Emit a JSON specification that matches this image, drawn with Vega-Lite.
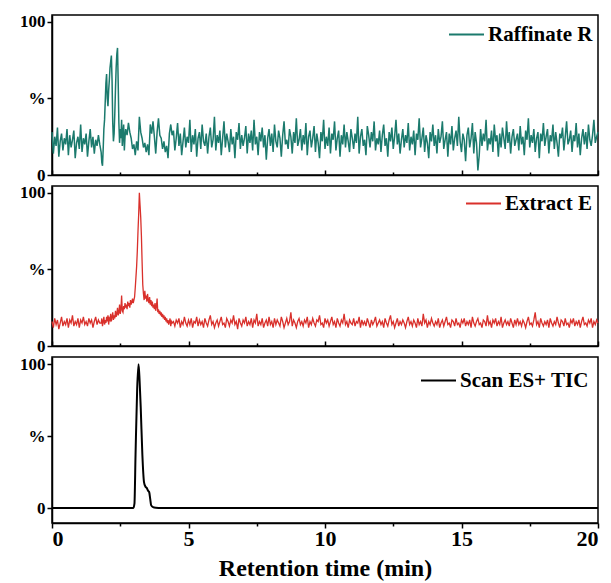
{
"$schema": "https://vega.github.io/schema/vega-lite/v6.json",
"padding": {"left": 4, "top": 12, "right": 5, "bottom": 0},
"background": "white",
"config": {
 "font": "Liberation Serif",
 "view": {"stroke": "#000", "strokeWidth": 1.5},
 "axis": {"labelFont": "Liberation Serif", "labelFontWeight": "bold", "labelFontSize": 17, "labelColor": "#000", "titleFont": "Liberation Serif", "titleFontWeight": "bold", "titleFontSize": 24, "titleColor": "#000", "domainColor": "#000", "domainWidth": 1.5, "tickColor": "#000", "tickWidth": 1.5, "grid": false, "labelPadding": 2},
 "legend": {"padding": 0, "labelFont": "Liberation Serif", "labelFontWeight": "bold", "labelFontSize": 21, "labelColor": "#000", "symbolType": "stroke", "symbolSize": 1225, "symbolStrokeWidth": 2, "labelLimit": 300, "labelOffset": 3}
},
"datasets": {
 "chrom": [
{"t":0,"r":28,"e":16},{"t":0.05,"r":14,"e":12},{"t":0.1,"r":25,"e":18},{"t":0.15,"r":19,"e":14},{"t":0.2,"r":31,"e":17},{"t":0.25,"r":12,"e":11},{"t":0.3,"r":22,"e":15},{"t":0.35,"r":27,"e":19},{"t":0.4,"r":16,"e":13},{"t":0.45,"r":24,"e":16},{"t":0.5,"r":20,"e":14},{"t":0.55,"r":30,"e":18},{"t":0.6,"r":13,"e":12},{"t":0.65,"r":26,"e":17},{"t":0.7,"r":18,"e":15},{"t":0.75,"r":23,"e":20},{"t":0.8,"r":29,"e":13},{"t":0.85,"r":11,"e":16},{"t":0.9,"r":21,"e":14},{"t":0.95,"r":25,"e":18},{"t":1,"r":17,"e":12},{"t":1.05,"r":33,"e":17},{"t":1.1,"r":15,"e":15},{"t":1.15,"r":24,"e":19},{"t":1.2,"r":20,"e":14},{"t":1.25,"r":27,"e":16},{"t":1.3,"r":12,"e":13},{"t":1.35,"r":22,"e":18},{"t":1.4,"r":30,"e":15},{"t":1.45,"r":18,"e":17},{"t":1.5,"r":25,"e":12},{"t":1.55,"r":14,"e":16},{"t":1.6,"r":23,"e":19},{"t":1.65,"r":19,"e":14},{"t":1.7,"r":26,"e":17},{"t":1.75,"r":20,"e":15},
{"t":1.8,"r":15,"e":15},{"t":1.825,"r":8,"e":18},{"t":1.85,"r":6,"e":13},{"t":1.875,"r":17,"e":16},{"t":1.9,"r":30,"e":19},{"t":1.925,"r":36,"e":14},{"t":1.95,"r":48,"e":17},{"t":1.975,"r":60,"e":15},{"t":2,"r":66,"e":19},{"t":2.025,"r":50,"e":16},{"t":2.05,"r":45,"e":20},{"t":2.075,"r":55,"e":14},{"t":2.1,"r":62,"e":18},{"t":2.125,"r":70,"e":17},{"t":2.15,"r":74,"e":21},{"t":2.175,"r":78,"e":16},{"t":2.2,"r":62,"e":19},{"t":2.225,"r":34,"e":22},{"t":2.25,"r":22,"e":17},{"t":2.275,"r":27,"e":20},{"t":2.3,"r":40,"e":18},{"t":2.325,"r":56,"e":23},{"t":2.35,"r":70,"e":19},{"t":2.375,"r":79,"e":21},{"t":2.4,"r":83,"e":25},{"t":2.425,"r":60,"e":20},{"t":2.45,"r":34,"e":22},{"t":2.475,"r":21,"e":27},{"t":2.5,"r":30,"e":21},{"t":2.525,"r":24,"e":24},{"t":2.55,"r":36,"e":33},{"t":2.575,"r":19,"e":23},{"t":2.6,"r":27,"e":22},{"t":2.625,"r":33,"e":26},{"t":2.65,"r":16,"e":24},{"t":2.675,"r":25,"e":28},{"t":2.7,"r":30,"e":25},
{"t":2.725,"e":27},{"t":2.75,"r":26,"e":24},{"t":2.775,"e":29},{"t":2.8,"r":34,"e":26},{"t":2.825,"e":28},{"t":2.85,"r":28,"e":25},{"t":2.875,"e":30},{"t":2.9,"r":24,"e":27},{"t":2.925,"e":29},{"t":2.95,"r":17,"e":31},{"t":2.975,"e":28},{"t":3,"r":20,"e":30},{"t":3.025,"e":32},{"t":3.05,"r":13,"e":38},{"t":3.075,"e":45},{"t":3.1,"r":22,"e":52},{"t":3.125,"e":62},{"t":3.15,"r":16,"e":75},{"t":3.175,"e":86},{"t":3.2,"r":38,"e":100},{"t":3.225,"e":92},{"t":3.25,"r":28,"e":84},{"t":3.275,"e":72},{"t":3.3,"r":24,"e":55},{"t":3.325,"e":40},{"t":3.35,"r":18,"e":34},{"t":3.375,"e":30},{"t":3.4,"r":21,"e":36},{"t":3.425,"e":31},{"t":3.45,"r":15,"e":33},{"t":3.475,"e":29},{"t":3.5,"r":20,"e":34},{"t":3.525,"e":30},{"t":3.55,"r":13,"e":28},{"t":3.575,"e":32},{"t":3.6,"r":33,"e":27},{"t":3.625,"e":30},{"t":3.65,"r":27,"e":26},{"t":3.675,"e":29},{"t":3.7,"r":35,"e":25},{"t":3.725,"e":27},{"t":3.75,"r":25,"e":24},{"t":3.775,"e":28},{"t":3.8,"r":14,"e":23},{"t":3.825,"e":26},{"t":3.85,"r":28,"e":31},{"t":3.875,"e":22},{"t":3.9,"r":37,"e":24},{"t":3.925,"e":21},{"t":3.95,"r":26,"e":23},{"t":3.975,"e":20},{"t":4,"r":24,"e":22},{"t":4.025,"e":19},{"t":4.05,"r":17,"e":21},{"t":4.075,"e":18},{"t":4.1,"r":22,"e":20},{"t":4.125,"e":17},{"t":4.15,"r":15,"e":19},{"t":4.175,"e":16},{"t":4.2,"r":19,"e":18},{"t":4.225,"e":15},{"t":4.25,"r":11,"e":17},{"t":4.275,"e":14},{"t":4.3,"r":27,"e":16},{"t":4.325,"e":18},{"t":4.35,"r":33,"e":13},{"t":4.375,"e":16},{"t":4.4,"r":26,"e":15},
{"t":4.45,"r":29,"e":16},{"t":4.5,"r":16,"e":13},{"t":4.55,"r":24,"e":17},{"t":4.6,"r":34,"e":15},{"t":4.65,"r":19,"e":18},{"t":4.7,"r":27,"e":12},{"t":4.75,"r":13,"e":16},{"t":4.8,"r":22,"e":14},{"t":4.85,"r":31,"e":19},{"t":4.9,"r":18,"e":15},{"t":4.95,"r":25,"e":13},{"t":5,"r":21,"e":17},
{"t":5.05,"r":36,"e":14},{"t":5.1,"r":15,"e":18},{"t":5.15,"r":26,"e":12},{"t":5.2,"r":20,"e":16},{"t":5.25,"r":30,"e":15},{"t":5.3,"r":12,"e":19},{"t":5.35,"r":24,"e":13},{"t":5.4,"r":28,"e":17},{"t":5.45,"r":17,"e":14},{"t":5.5,"r":33,"e":16},{"t":5.55,"r":22,"e":12},{"t":5.6,"r":19,"e":18},{"t":5.65,"r":27,"e":15},{"t":5.7,"r":14,"e":13},{"t":5.75,"r":25,"e":17},{"t":5.8,"r":31,"e":20},{"t":5.85,"r":18,"e":14},{"t":5.9,"r":23,"e":16},{"t":5.95,"r":38,"e":12},{"t":6,"r":16,"e":15},
{"t":6.05,"r":26,"e":17},{"t":6.1,"r":21,"e":13},{"t":6.15,"r":29,"e":16},{"t":6.2,"r":13,"e":19},{"t":6.25,"r":24,"e":14},{"t":6.3,"r":35,"e":15},{"t":6.35,"r":18,"e":12},{"t":6.4,"r":27,"e":18},{"t":6.45,"r":22,"e":16},{"t":6.5,"r":15,"e":13},{"t":6.55,"r":30,"e":17},{"t":6.6,"r":20,"e":15},{"t":6.65,"r":25,"e":20},{"t":6.7,"r":11,"e":14},{"t":6.75,"r":28,"e":16},{"t":6.8,"r":23,"e":11},{"t":6.85,"r":34,"e":18},{"t":6.9,"r":17,"e":15},{"t":6.95,"r":26,"e":13},{"t":7,"r":19,"e":17},
{"t":7.05,"r":24,"e":15},{"t":7.1,"r":32,"e":19},{"t":7.15,"r":14,"e":13},{"t":7.2,"r":27,"e":16},{"t":7.25,"r":21,"e":14},{"t":7.3,"r":29,"e":18},{"t":7.35,"r":16,"e":12},{"t":7.4,"r":36,"e":17},{"t":7.45,"r":20,"e":15},{"t":7.5,"r":25,"e":21},{"t":7.55,"r":13,"e":13},{"t":7.6,"r":28,"e":16},{"t":7.65,"r":22,"e":14},{"t":7.7,"r":31,"e":18},{"t":7.75,"r":18,"e":12},{"t":7.8,"r":26,"e":15},{"t":7.85,"r":10,"e":17},{"t":7.9,"r":24,"e":13},{"t":7.95,"r":30,"e":19},{"t":8,"r":19,"e":14},
{"t":8.05,"r":27,"e":16},{"t":8.1,"r":15,"e":12},{"t":8.15,"r":33,"e":18},{"t":8.2,"r":22,"e":14},{"t":8.25,"r":18,"e":17},{"t":8.3,"r":29,"e":15},{"t":8.35,"r":24,"e":13},{"t":8.4,"r":12,"e":19},{"t":8.45,"r":26,"e":16},{"t":8.5,"r":35,"e":12},{"t":8.55,"r":20,"e":15},{"t":8.6,"r":23,"e":18},{"t":8.65,"r":17,"e":14},{"t":8.7,"r":30,"e":16},{"t":8.75,"r":25,"e":22},{"t":8.8,"r":14,"e":13},{"t":8.85,"r":28,"e":17},{"t":8.9,"r":21,"e":15},{"t":8.95,"r":37,"e":12},{"t":9,"r":19,"e":16},
{"t":9.05,"r":23,"e":18},{"t":9.1,"r":30,"e":14},{"t":9.15,"r":16,"e":16},{"t":9.2,"r":26,"e":13},{"t":9.25,"r":20,"e":17},{"t":9.3,"r":34,"e":15},{"t":9.35,"r":13,"e":19},{"t":9.4,"r":25,"e":12},{"t":9.45,"r":29,"e":16},{"t":9.5,"r":18,"e":14},{"t":9.55,"r":24,"e":18},{"t":9.6,"r":32,"e":15},{"t":9.65,"r":15,"e":13},{"t":9.7,"r":27,"e":17},{"t":9.75,"r":21,"e":16},{"t":9.8,"r":11,"e":20},{"t":9.85,"r":28,"e":14},{"t":9.9,"r":22,"e":15},{"t":9.95,"r":36,"e":12},{"t":10,"r":17,"e":18},
{"t":10.05,"r":25,"e":15},{"t":10.1,"r":19,"e":17},{"t":10.15,"r":31,"e":13},{"t":10.2,"r":14,"e":16},{"t":10.25,"r":27,"e":19},{"t":10.3,"r":23,"e":14},{"t":10.35,"r":35,"e":16},{"t":10.4,"r":16,"e":12},{"t":10.45,"r":24,"e":18},{"t":10.5,"r":29,"e":15},{"t":10.55,"r":12,"e":13},{"t":10.6,"r":26,"e":17},{"t":10.65,"r":20,"e":15},{"t":10.7,"r":33,"e":21},{"t":10.75,"r":18,"e":14},{"t":10.8,"r":28,"e":16},{"t":10.85,"r":22,"e":12},{"t":10.9,"r":15,"e":17},{"t":10.95,"r":30,"e":15},{"t":11,"r":24,"e":14},
{"t":11.05,"r":17,"e":18},{"t":11.1,"r":27,"e":13},{"t":11.15,"r":21,"e":16},{"t":11.2,"r":38,"e":15},{"t":11.25,"r":14,"e":19},{"t":11.3,"r":25,"e":12},{"t":11.35,"r":30,"e":17},{"t":11.4,"r":19,"e":14},{"t":11.45,"r":23,"e":16},{"t":11.5,"r":13,"e":13},{"t":11.55,"r":32,"e":18},{"t":11.6,"r":26,"e":15},{"t":11.65,"r":18,"e":12},{"t":11.7,"r":28,"e":17},{"t":11.75,"r":22,"e":14},{"t":11.8,"r":35,"e":16},{"t":11.85,"r":16,"e":19},{"t":11.9,"r":24,"e":13},{"t":11.95,"r":20,"e":15},{"t":12,"r":29,"e":17},
{"t":12.05,"r":15,"e":14},{"t":12.1,"r":26,"e":16},{"t":12.15,"r":33,"e":12},{"t":12.2,"r":19,"e":18},{"t":12.25,"r":24,"e":15},{"t":12.3,"r":12,"e":13},{"t":12.35,"r":28,"e":17},{"t":12.4,"r":22,"e":20},{"t":12.45,"r":31,"e":14},{"t":12.5,"r":17,"e":16},{"t":12.55,"r":25,"e":12},{"t":12.6,"r":36,"e":15},{"t":12.65,"r":20,"e":18},{"t":12.7,"r":27,"e":13},{"t":12.75,"r":14,"e":16},{"t":12.8,"r":23,"e":14},{"t":12.85,"r":30,"e":17},{"t":12.9,"r":18,"e":15},{"t":12.95,"r":26,"e":12},{"t":13,"r":21,"e":16},
{"t":13.05,"r":34,"e":19},{"t":13.1,"r":16,"e":14},{"t":13.15,"r":25,"e":16},{"t":13.2,"r":20,"e":13},{"t":13.25,"r":29,"e":17},{"t":13.3,"r":13,"e":15},{"t":13.35,"r":27,"e":12},{"t":13.4,"r":23,"e":18},{"t":13.45,"r":37,"e":14},{"t":13.5,"r":18,"e":16},{"t":13.55,"r":24,"e":13},{"t":13.6,"r":31,"e":21},{"t":13.65,"r":15,"e":15},{"t":13.7,"r":26,"e":17},{"t":13.75,"r":21,"e":12},{"t":13.8,"r":11,"e":16},{"t":13.85,"r":28,"e":14},{"t":13.9,"r":22,"e":18},{"t":13.95,"r":33,"e":15},{"t":14,"r":19,"e":13},
{"t":14.05,"r":26,"e":16},{"t":14.1,"r":14,"e":14},{"t":14.15,"r":30,"e":18},{"t":14.2,"r":21,"e":12},{"t":14.25,"r":25,"e":15},{"t":14.3,"r":35,"e":17},{"t":14.35,"r":17,"e":13},{"t":14.4,"r":23,"e":16},{"t":14.45,"r":28,"e":19},{"t":14.5,"r":12,"e":14},{"t":14.55,"r":27,"e":15},{"t":14.6,"r":20,"e":12},{"t":14.65,"r":32,"e":17},{"t":14.7,"r":16,"e":16},{"t":14.75,"r":24,"e":13},{"t":14.8,"r":29,"e":18},{"t":14.85,"r":19,"e":14},{"t":14.9,"r":38,"e":15},{"t":14.95,"r":22,"e":12},{"t":15,"r":15,"e":17},
{"t":15.05,"r":27,"e":15},{"t":15.1,"r":23,"e":18},{"t":15.15,"r":9,"e":13},{"t":15.2,"r":26,"e":16},{"t":15.25,"r":31,"e":14},{"t":15.3,"r":18,"e":17},{"t":15.35,"r":24,"e":12},{"t":15.4,"r":34,"e":19},{"t":15.45,"r":14,"e":15},{"t":15.5,"r":28,"e":13},{"t":15.55,"r":21,"e":16},{"t":15.6,"r":3,"e":18},{"t":15.65,"r":13,"e":14},{"t":15.7,"r":30,"e":15},{"t":15.75,"r":19,"e":12},{"t":15.8,"r":27,"e":17},{"t":15.85,"r":22,"e":16},{"t":15.9,"r":36,"e":13},{"t":15.95,"r":16,"e":20},{"t":16,"r":24,"e":14},
{"t":16.05,"r":20,"e":16},{"t":16.1,"r":29,"e":12},{"t":16.15,"r":15,"e":17},{"t":16.2,"r":33,"e":15},{"t":16.25,"r":22,"e":18},{"t":16.3,"r":26,"e":13},{"t":16.35,"r":12,"e":16},{"t":16.4,"r":27,"e":14},{"t":16.45,"r":18,"e":19},{"t":16.5,"r":31,"e":12},{"t":16.55,"r":24,"e":15},{"t":16.6,"r":17,"e":17},{"t":16.65,"r":35,"e":14},{"t":16.7,"r":21,"e":16},{"t":16.75,"r":28,"e":13},{"t":16.8,"r":14,"e":18},{"t":16.85,"r":25,"e":15},{"t":16.9,"r":30,"e":12},{"t":16.95,"r":19,"e":17},{"t":17,"r":23,"e":14},
{"t":17.05,"r":27,"e":18},{"t":17.1,"r":16,"e":14},{"t":17.15,"r":32,"e":16},{"t":17.2,"r":20,"e":13},{"t":17.25,"r":25,"e":17},{"t":17.3,"r":13,"e":15},{"t":17.35,"r":29,"e":12},{"t":17.4,"r":23,"e":16},{"t":17.45,"r":37,"e":19},{"t":17.5,"r":18,"e":14},{"t":17.55,"r":26,"e":15},{"t":17.6,"r":21,"e":13},{"t":17.65,"r":30,"e":17},{"t":17.7,"r":15,"e":22},{"t":17.75,"r":24,"e":14},{"t":17.8,"r":28,"e":16},{"t":17.85,"r":11,"e":12},{"t":17.9,"r":27,"e":18},{"t":17.95,"r":22,"e":15},{"t":18,"r":34,"e":13},
{"t":18.05,"r":19,"e":16},{"t":18.1,"r":25,"e":14},{"t":18.15,"r":30,"e":17},{"t":18.2,"r":14,"e":12},{"t":18.25,"r":26,"e":18},{"t":18.3,"r":22,"e":15},{"t":18.35,"r":33,"e":13},{"t":18.4,"r":17,"e":16},{"t":18.45,"r":28,"e":14},{"t":18.5,"r":21,"e":19},{"t":18.55,"r":12,"e":15},{"t":18.6,"r":27,"e":12},{"t":18.65,"r":24,"e":17},{"t":18.7,"r":31,"e":16},{"t":18.75,"r":16,"e":13},{"t":18.8,"r":25,"e":18},{"t":18.85,"r":35,"e":14},{"t":18.9,"r":20,"e":15},{"t":18.95,"r":23,"e":12},{"t":19,"r":29,"e":17},
{"t":19.05,"r":15,"e":15},{"t":19.1,"r":26,"e":18},{"t":19.15,"r":22,"e":13},{"t":19.2,"r":34,"e":16},{"t":19.25,"r":18,"e":14},{"t":19.3,"r":27,"e":17},{"t":19.35,"r":13,"e":12},{"t":19.4,"r":24,"e":16},{"t":19.45,"r":30,"e":19},{"t":19.5,"r":20,"e":14},{"t":19.55,"r":28,"e":15},{"t":19.6,"r":17,"e":13},{"t":19.65,"r":33,"e":17},{"t":19.7,"r":23,"e":15},{"t":19.75,"r":19,"e":18},{"t":19.8,"r":26,"e":12},{"t":19.85,"r":36,"e":16},{"t":19.9,"r":21,"e":14},{"t":19.95,"r":25,"e":17},{"t":20,"r":28,"e":15}
 ],
 "tic": [
{"t":0,"s":0},{"t":2.98,"s":0},{"t":3.02,"s":3},{"t":3.06,"s":37},{"t":3.12,"s":83},{"t":3.17,"s":100},{"t":3.21,"s":88},{"t":3.25,"s":70},{"t":3.31,"s":37},{"t":3.37,"s":18},{"t":3.42,"s":15},{"t":3.47,"s":14},{"t":3.52,"s":12},{"t":3.56,"s":11},{"t":3.6,"s":6},{"t":3.63,"s":2},{"t":3.7,"s":0.6},{"t":3.8,"s":0.2},{"t":4,"s":0},{"t":20,"s":0}
 ]
},
"spacing": 11,
"bounds": "flush",
"resolve": {"scale": {"color": "independent", "y": "independent", "x": "independent"}, "legend": {"color": "independent"}, "axis": {"x": "independent", "y": "independent"}},
"vconcat": [
 {
  "width": 546, "height": 160,
  "data": {"name": "chrom"},
  "mark": {"type": "line", "strokeWidth": 1.5, "interpolate": "linear", "invalid": "filter"},
  "encoding": {
   "x": {"field": "t", "type": "quantitative", "scale": {"domain": [0, 20], "nice": false}, "axis": {"title": null, "labels": false, "minExtent": 0, "maxExtent": 0, "values": [0, 2.5, 5, 7.5, 10, 12.5, 15, 17.5, 20], "tickSize": {"condition": {"test": "datum.value % 5 === 0", "value": -5}, "value": -3}}},
   "y": {"field": "r", "type": "quantitative", "scale": {"domain": [0, 104.5], "nice": false}, "axis": {"title": null, "values": [0, 50, 100], "labelExpr": "datum.value == 50 ? '%' : datum.label", "tickSize": 5, "minExtent": 47, "maxExtent": 47}},
   "color": {"datum": "Raffinate R", "type": "nominal", "scale": {"range": ["#1b7a6d"]}, "legend": {"title": null, "orient": "none", "legendX": 396, "legendY": 1}}
  }
 },
 {
  "width": 546, "height": 160,
  "data": {"name": "chrom"},
  "mark": {"type": "line", "strokeWidth": 1.3, "interpolate": "linear", "invalid": "filter"},
  "encoding": {
   "x": {"field": "t", "type": "quantitative", "scale": {"domain": [0, 20], "nice": false}, "axis": {"title": null, "labels": false, "minExtent": 0, "maxExtent": 0, "values": [0, 2.5, 5, 7.5, 10, 12.5, 15, 17.5, 20], "tickSize": {"condition": {"test": "datum.value % 5 === 0", "value": -5}, "value": -3}}},
   "y": {"field": "e", "type": "quantitative", "scale": {"domain": [0, 104.5], "nice": false}, "axis": {"title": null, "values": [0, 50, 100], "labelExpr": "datum.value == 50 ? '%' : datum.label", "tickSize": 5, "minExtent": 47, "maxExtent": 47}},
   "color": {"datum": "Extract E", "type": "nominal", "scale": {"range": ["#d9302b"]}, "legend": {"title": null, "orient": "none", "legendX": 413, "legendY": -1}}
  }
 },
 {
  "width": 546, "height": 166,
  "data": {"name": "tic"},
  "mark": {"type": "line", "strokeWidth": 2, "interpolate": "monotone"},
  "encoding": {
   "x": {"field": "t", "type": "quantitative", "scale": {"domain": [0, 20], "nice": false}, "axis": {"title": "Retention time (min)", "values": [0, 2.5, 5, 7.5, 10, 12.5, 15, 17.5, 20], "labelExpr": "datum.value % 5 === 0 ? datum.label : ''", "labelFontSize": 22, "labelPadding": 0, "titlePadding": 7, "tickSize": {"condition": {"test": "datum.value % 5 === 0", "value": 5}, "value": 3}}},
   "y": {"field": "s", "type": "quantitative", "scale": {"domain": [-10.4, 105], "nice": false}, "axis": {"title": null, "values": [0, 50, 100], "labelExpr": "datum.value == 50 ? '%' : datum.label", "tickSize": 5, "minExtent": 47, "maxExtent": 47}},
   "color": {"datum": "Scan ES+ TIC", "type": "nominal", "scale": {"range": ["#000000"]}, "legend": {"title": null, "orient": "none", "legendX": 368, "legendY": 5}}
  }
 }
]
}
